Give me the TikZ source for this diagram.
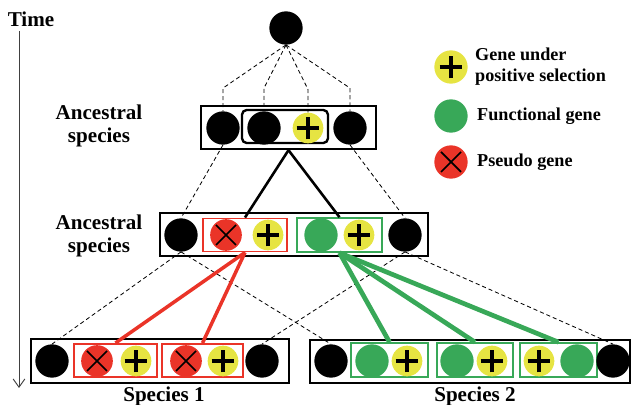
\documentclass[tikz,border=0pt]{standalone}
\usepackage{fontspec}
\setmainfont{Liberation Serif}
\usetikzlibrary{positioning}
\usetikzlibrary{arrows,arrows.meta,shapes}
\usetikzlibrary{calc}
\definecolor{geneyellow}{RGB}{230,228,66}
\definecolor{genegreen}{RGB}{56,168,88}
\definecolor{genered}{RGB}{234,52,40}
\tikzstyle{gene}=[circle,draw=none,minimum size=1cm,inner sep=0pt]
\tikzstyle{blackgene}=[gene,fill=black]
\tikzstyle{greengene}=[gene,fill=genegreen]
\tikzstyle{plusgene}=[gene,fill=geneyellow,minimum size=0.92cm,
  path picture={
    \draw[line width=2.6pt] ([xshift=-0.34cm]path picture bounding box.center) -- ([xshift=0.34cm]path picture bounding box.center);
    \draw[line width=2.6pt] ([yshift=-0.34cm]path picture bounding box.center) -- ([yshift=0.34cm]path picture bounding box.center);}]
\tikzstyle{pseudogene}=[gene,fill=genered,minimum size=0.95cm,
  path picture={
    \draw[line width=1.5pt] ([shift={(-0.3cm,-0.3cm)}]path picture bounding box.center) -- ([shift={(0.3cm,0.3cm)}]path picture bounding box.center);
    \draw[line width=1.5pt] ([shift={(-0.3cm,0.3cm)}]path picture bounding box.center) -- ([shift={(0.3cm,-0.3cm)}]path picture bounding box.center);}]
\tikzstyle{speciesbox}=[draw,line width=2pt,inner sep=0pt,minimum height=1.29cm]
\tikzstyle{redbox}=[draw=genered,line width=1.4pt,inner sep=0pt,minimum height=1cm]
\tikzstyle{greenbox}=[draw=genegreen,line width=1.4pt,inner sep=0pt,minimum height=1.02cm]
\tikzstyle{ortholog}=[draw,line width=0.7pt,dash pattern=on 3.5pt off 2.5pt]
\tikzstyle{descent}=[draw,line width=2.2pt]
\tikzstyle{redline}=[draw=genered,line width=3pt]
\tikzstyle{greenline}=[draw=genegreen,line width=4pt]
\tikzstyle{spname}=[font=\fontsize{18}{20}\selectfont\bfseries,align=center]
\tikzstyle{legendtext}=[font=\fontsize{15.5}{18}\selectfont\bfseries,align=left,anchor=west,inner sep=0pt]

\begin{document}
\begin{tikzpicture}[x=0.03cm,y=-0.03cm]
  \useasboundingbox (0,0) rectangle (633,405);

  % time axis
  \node[spname] (time) at (31,19) {Time};
  \coordinate (tstart) at (19,31);
  \coordinate (tend) at (19,388);
  \draw[-{Straight Barb[length=7pt,width=10pt]},line width=0.8pt,black!75] (tstart) -- (tend);

  % species boxes
  \node[speciesbox,minimum width=5.25cm] (anc1) at (288.5,127.5) {};
  \node[draw,line width=2pt,rounded corners=4pt,minimum width=2.58cm,minimum height=0.99cm,inner sep=0pt] (dup1) at (285,126.5) {};
  \node[speciesbox,minimum width=8.04cm] (anc2) at (294,234.5) {};
  \node[redbox,minimum width=2.52cm] (rb) at (245,235) {};
  \node[greenbox,minimum width=2.55cm] (gb) at (339.5,235) {};
  \node[speciesbox,minimum width=7.74cm,minimum height=1.32cm] (sp1) at (160,361) {};
  \node[redbox,minimum width=2.49cm] (r1) at (115.5,360.5) {};
  \node[redbox,minimum width=2.43cm] (r2) at (202.5,360.5) {};
  \node[speciesbox,minimum width=9.6cm] (sp2) at (470,361.5) {};
  \node[greenbox,minimum width=2.31cm] (g1) at (389.5,360) {};
  \node[greenbox,minimum width=2.28cm] (g2) at (475,360) {};
  \node[greenbox,minimum width=2.31cm] (g3) at (558.5,360) {};

  % genes
  \foreach \pos/\name/\kind in {{(286,28)/root/blackgene},
      {(223,128)/a1/blackgene}, {(264,128)/a2/blackgene}, {(308,128)/a3/plusgene}, {(350,128)/a4/blackgene},
      {(181,235)/b1/blackgene}, {(226,235)/b2/pseudogene}, {(268,235)/b3/plusgene},
      {(321,235)/b4/greengene}, {(359,235)/b5/plusgene}, {(405,235)/b6/blackgene},
      {(52,361)/c1/blackgene}, {(97,361)/c2/pseudogene}, {(136,361)/c3/plusgene},
      {(186,361)/c4/pseudogene}, {(223,361)/c5/plusgene}, {(262,361)/c6/blackgene},
      {(331,361)/d1/blackgene}, {(372,361)/d2/greengene}, {(407,361)/d3/plusgene}, {(457,361)/d4/greengene},
      {(492,361)/d5/plusgene}, {(539,361)/d6/plusgene}, {(577,361)/d7/greengene}, {(613,361)/d8/blackgene}}
    \node[\kind] (\name) at \pos {};

  % orthologous lineages
  \foreach \name in {a1,a2,a3,a4}
    \path[ortholog] (root.south) -- ([yshift=0.69cm]\name.north) -- (\name.north);
  \foreach \source/\dest in {a1/b1, a4/b6, b1/c1, b1/d1, b6/c6, b6/d8}
    \path[ortholog] (\source.south) -- (\dest.north);

  % duplications
  \foreach \dest in {rb, gb}
    \path[descent] (anc1.south) -- (\dest.north);
  \foreach \dest in {r1, r2}
    \path[redline] (rb.south) -- (\dest.north);
  \foreach \dest in {g1, g2, g3}
    \path[greenline] (gb.south) -- (\dest.north);

  % labels
  \node[spname] (ancname1) at (99,126) {Ancestral\\species};
  \node[spname] (ancname2) at (99,236) {Ancestral\\species};
  \node[spname] (spname1) at (164,396) {Species 1};
  \node[spname] (spname2) at (475,396) {Species 2};

  % legend
  \node[plusgene,minimum size=1cm] (keyplus) at (451,67) {};
  \node[greengene] (keygreen) at (451,116) {};
  \node[pseudogene,minimum size=1cm] (keypseudo) at (451,162) {};
  \node[legendtext,right=0.72cm of keyplus.center] (keyplustext) {Gene under\\positive selection};
  \node[legendtext,right=0.78cm of keygreen.center] (keygreentext) {Functional gene};
  \node[legendtext,right=0.78cm of keypseudo.center] (keypseudotext) {Pseudo gene};
\end{tikzpicture}
\end{document}
